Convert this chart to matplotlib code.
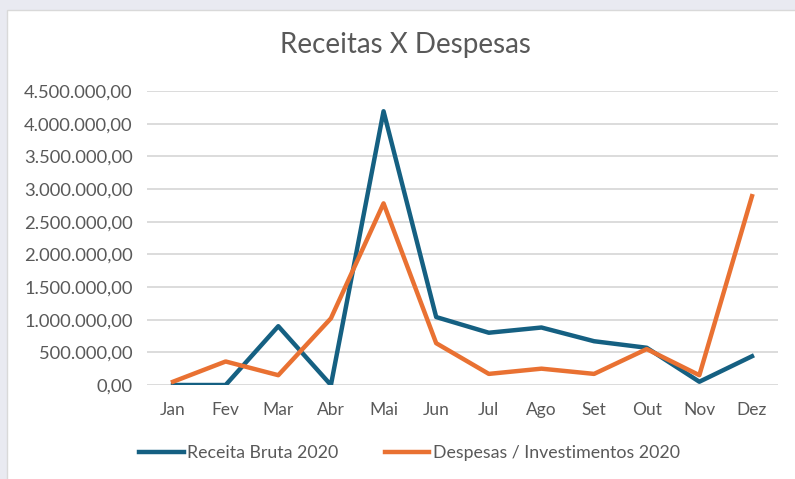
import numpy as np
import matplotlib
matplotlib.use("Agg")
import matplotlib.pyplot as plt
from matplotlib.patches import Rectangle
from matplotlib.ticker import FuncFormatter

meses = ["Jan", "Fev", "Mar", "Abr", "Mai", "Jun", "Jul", "Ago", "Set", "Out", "Nov", "Dez"]
receita = [0, 0, 900000, 0, 4190000, 1040000, 800000, 880000, 670000, 570000, 50000, 440000]
despesas = [50000, 360000, 150000, 1020000, 2780000, 640000, 170000, 250000, 170000, 550000, 150000, 2890000]

plt.rcParams["font.family"] = ["Lato", "DejaVu Sans"]
texto = "#595959"

fig = plt.figure(figsize=(7.95, 4.79), dpi=100)
fig.patch.set_facecolor("#e9eaf1")
fig.patches.append(Rectangle((7 / 795, -0.01), 1, 1.01 - 10 / 479, transform=fig.transFigure,
                             facecolor="white", edgecolor="#d9d9d9", lw=1, zorder=-5))

ax = fig.add_axes([146.7 / 795, 1 - 385 / 479, 631.6 / 795, 294 / 479])
ax.set_zorder(2)
ax.set_facecolor("none")
x = np.arange(len(meses))
ax.plot(x, receita, color="#156082", lw=3.2, label="Receita Bruta 2020", solid_joinstyle="round")
ax.plot(x, despesas, color="#e97132", lw=3.2, label="Despesas / Investimentos 2020", solid_joinstyle="round")

ax.set_xlim(-0.5, 11.5)
ax.set_ylim(0, 4500000)
ax.set_yticks(np.arange(0, 4500001, 500000))
ax.yaxis.set_major_formatter(FuncFormatter(
    lambda v, p: f"{v:,.2f}".replace(",", "X").replace(".", ",").replace("X", ".")))
ax.set_xticks(x)
ax.set_xticklabels(meses)
ax.tick_params(length=0, labelsize=12.5, colors=texto)
ax.tick_params(axis="y", labelsize=13.2, pad=10)
ax.tick_params(axis="x", pad=12)
ax.grid(axis="y", color="#d9d9d9", lw=1.3)
ax.set_axisbelow(True)
for s in ax.spines.values():
    s.set_visible(False)

fig.text(0.51, 1 - 45 / 479, "Receitas X Despesas", ha="center", va="center",
         fontsize=20, color=texto)
fig.legend(loc="center", bbox_to_anchor=(0.515, 1 - 453 / 479), ncol=2, frameon=False,
           fontsize=12.8, labelcolor=texto, handlelength=2.5, handletextpad=0.2,
           columnspacing=2.6)

fig.savefig("out.png", dpi=100, facecolor=fig.get_facecolor())
